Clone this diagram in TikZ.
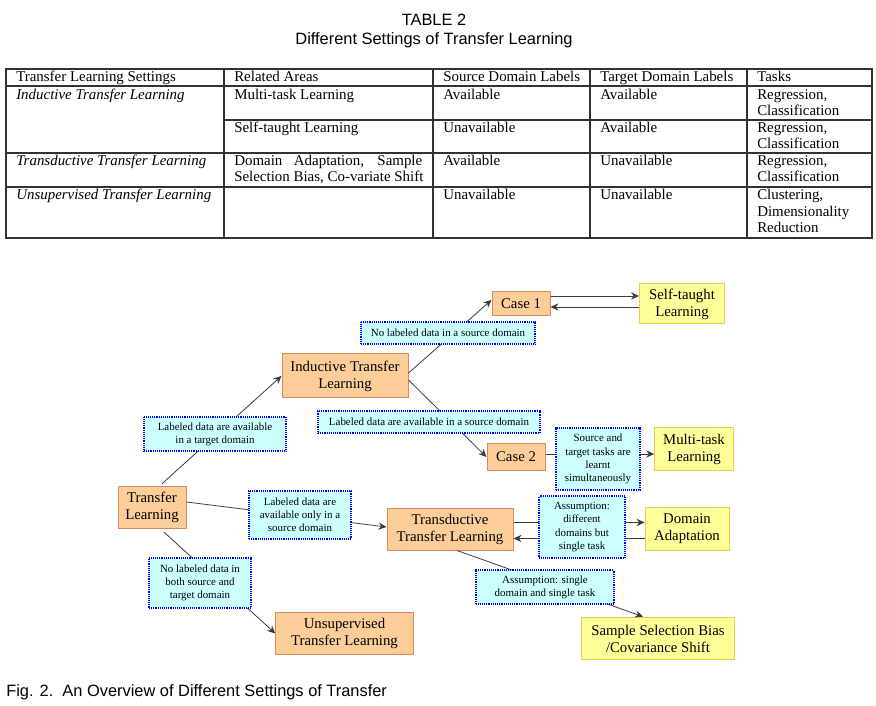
\documentclass[tikz,border=0pt]{standalone}
\usepackage{fontspec}
\setmainfont{Liberation Serif}
\newfontfamily\sansf{Liberation Sans}
\usetikzlibrary{arrows.meta,calc}
\definecolor{obfill}{RGB}{252,205,153}
\definecolor{obdraw}{RGB}{214,140,96}
\definecolor{ybfill}{RGB}{255,255,153}
\definecolor{ybdraw}{RGB}{245,200,80}
\definecolor{lbfill}{RGB}{204,255,255}
\definecolor{lbdraw}{RGB}{0,0,255}
\definecolor{conn}{RGB}{60,60,60}
\definecolor{tline}{RGB}{50,50,50}
\begin{document}
\begin{tikzpicture}[x=0.75pt,y=-0.75pt,
  tbl/.style={draw=tline,line width=0.8pt},
  cell/.style={anchor=base west,inner sep=0pt,font=\fontsize{11.2}{12.4}\selectfont},
  obox/.style={draw=obdraw,fill=obfill,line width=0.75pt,inner sep=1pt,align=center,font=\fontsize{11.1}{12.75}\selectfont},
  ybox/.style={draw=ybdraw,fill=ybfill,line width=0.75pt,inner sep=1pt,align=center,font=\fontsize{11.1}{12.75}\selectfont},
  lbox/.style={draw=lbdraw,fill=lbfill,line width=1.3pt,dash pattern=on 0.7pt off 0.7pt,inner sep=1pt,align=center,font=\fontsize{8.2}{9.9}\selectfont},
  link/.style={draw=conn,line width=0.6pt},
  arr/.style={link,-{Stealth[length=6pt,width=5.5pt,inset=2pt]}}
]
\useasboundingbox[fill=white] (0,0) rectangle (876,706);

% ---- title ----
\node[anchor=base,inner sep=0pt,font=\sansf\fontsize{12.3}{15}\selectfont] (t1) at (434,26) {TABLE 2};
\node[anchor=base,inner sep=0pt,font=\sansf\fontsize{12.3}{15}\selectfont] (t2) at (434,45) {Different Settings of Transfer Learning};

% ---- table grid ----
\draw[tbl] (6,69) rectangle (872,238);
\draw[tbl] (6,86) -- (872,86);
\draw[tbl] (224,120) -- (872,120);
\draw[tbl] (6,153) -- (872,153);
\draw[tbl] (6,187) -- (872,187);
\draw[tbl] (224,69) -- (224,238);
\draw[tbl] (433,69) -- (433,238);
\draw[tbl] (590,69) -- (590,238);
\draw[tbl] (747,69) -- (747,238);

% header
\node[cell] (h1) at (16,81.5) {Transfer Learning Settings};
\node[cell] (h2) at (234,81.5) {Related Areas};
\node[cell] (h3) at (443,81.5) {Source Domain Labels};
\node[cell] (h4) at (600,81.5) {Target Domain Labels};
\node[cell] (h5) at (757,81.5) {Tasks};
% row 1
\node[cell] (r1a) at (16,99.5) {\itshape Inductive Transfer Learning};
\node[cell] (r1b) at (234,99.5) {Multi-task Learning};
\node[cell] (r1c) at (443,99.5) {Available};
\node[cell] (r1d) at (600,99.5) {Available};
\node[cell] (r1e) at (757,99.5) {Regression,};
\node[cell] (r1f) at (757,116) {Classification};
% row 2
\node[cell] (r2b) at (234,132.7) {Self-taught Learning};
\node[cell] (r2c) at (443,132.7) {Unavailable};
\node[cell] (r2d) at (600,132.7) {Available};
\node[cell] (r2e) at (757,132.7) {Regression,};
\node[cell] (r2f) at (757,149) {Classification};
% row 3
\node[cell] (r3a) at (16,166) {\itshape Transductive Transfer Learning};
\node[cell] (r3b) at (234,166) {\makebox[141pt][s]{Domain Adaptation, Sample}};
\node[cell] (r3g) at (234,182) {Selection Bias, Co-variate Shift};
\node[cell] (r3c) at (443,166) {Available};
\node[cell] (r3d) at (600,166) {Unavailable};
\node[cell] (r3e) at (757,166) {Regression,};
\node[cell] (r3f) at (757,182) {Classification};
% row 4
\node[cell] (r4a) at (16,200) {\itshape Unsupervised Transfer Learning};
\node[cell] (r4c) at (443,200) {Unavailable};
\node[cell] (r4d) at (600,200) {Unavailable};
\node[cell] (r4e) at (757,200) {Clustering,};
\node[cell] (r4f) at (757,216.5) {Dimensionality};
\node[cell] (r4g) at (757,233) {Reduction};

% ---- diagram boxes ----
\node[obox,minimum width=51pt,minimum height=31.5pt] (tl) at (152,507) {Transfer\\Learning};
\node[obox,minimum width=94.5pt,minimum height=33pt] (ind) at (345,376) {Inductive Transfer\\Learning};
\node[obox,minimum width=43.5pt,minimum height=18pt] (case1) at (521,304) {Case 1};
\node[ybox,minimum width=63.75pt,minimum height=30pt] (self) at (682,304) {Self-taught\\Learning};
\node[obox,minimum width=43.5pt,minimum height=19.5pt] (case2) at (516,457) {Case 2};
\node[ybox,minimum width=59pt,minimum height=31.5pt] (multi) at (694,449) {Multi-task\\Learning};
\node[obox,minimum width=94.5pt,minimum height=31.5pt] (trans) at (450,529) {Transductive\\Transfer Learning};
\node[ybox,minimum width=63pt,minimum height=32pt] (da) at (687,529) {Domain\\Adaptation};
\node[ybox,minimum width=115pt,minimum height=32pt] (sample) at (658,638.5) {Sample Selection Bias\\/Covariance Shift};
\node[obox,minimum width=103pt,minimum height=32pt] (unsup) at (344.5,633.5) {Unsupervised\\Transfer Learning};

% ---- connectors ----
\draw[arr,shorten <=2pt] ($(tl.north)+(8,0)$) -- (ind.west);
\draw[arr] ($(ind.east)+(0,-3)$) -- ($(case1.west)+(0,-4)$);
\draw[arr] ($(ind.east)+(0,4)$) -- (case2.west);
\draw[arr] ($(case1.east)+(0,-8)$) -- ($(self.west)+(0,-8)$);
\draw[arr] ($(self.west)+(0,3)$) -- ($(case1.east)+(0,3)$);
\draw[arr] ($(case2.east)+(0,-3)$) -- ($(multi.west)+(0,5)$);
\draw[arr] ($(tl.east)+(0,-5)$) -- ($(trans.west)+(0,-2)$);
\draw[arr] ($(trans.east)+(0,-6.5)$) -- ($(da.west)+(0,-6.5)$);
\draw[arr] ($(da.west)+(0,9.5)$) -- ($(trans.east)+(0,9.5)$);
\draw[arr] ($(trans.south)+(7,0)$) -- ($(sample.north)+(-15,0)$);
\draw[arr,shorten <=4pt] ($(tl.south)+(8,0)$) -- (unsup.west);

% ---- condition labels ----
\node[lbox,minimum width=130.5pt,minimum height=17pt] (l1) at (448,333) {No labeled data in a source domain};
\node[lbox,minimum width=106.5pt,minimum height=26pt] (l2) at (215,434) {Labeled data are available\\in a target domain};
\node[lbox,minimum width=166.5pt,minimum height=17pt] (l3) at (429,422) {Labeled data are available in a source domain};
\node[lbox,minimum width=63pt,minimum height=46.5pt] (l4) at (598,459) {Source and\\target tasks are\\learnt\\simultaneously};
\node[lbox,minimum width=76.5pt,minimum height=36pt] (l5) at (300,515) {Labeled data are\\available only in a\\source domain};
\node[lbox,minimum width=64pt,minimum height=46.5pt] (l6) at (582,527) {Assumption:\\different\\domains but\\single task};
\node[lbox,minimum width=103pt,minimum height=25.5pt] (l7) at (545,587) {Assumption: single\\domain and single task};
\node[lbox,minimum width=76.5pt,minimum height=37pt] (l8) at (200,583) {No labeled data in\\both source and\\target domain};

% ---- caption ----
\node[anchor=base west,inner sep=0pt,font=\sansf\fontsize{12.3}{15}\selectfont] (cap) at (6,696.5) {Fig. 2.\ \ An Overview of Different Settings of Transfer};
\end{tikzpicture}
\end{document}
